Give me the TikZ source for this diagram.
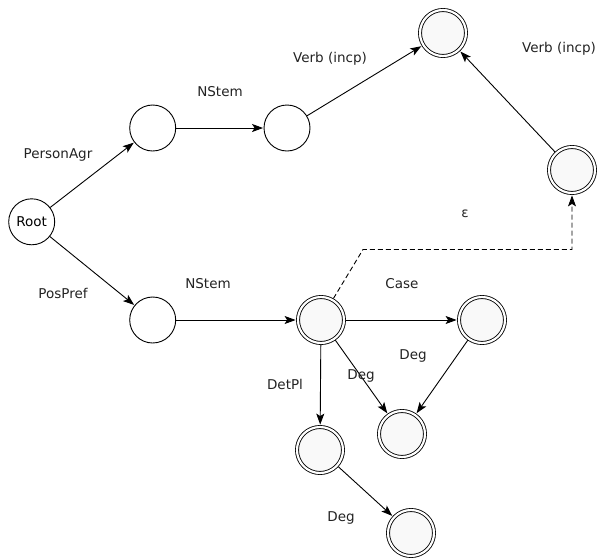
\documentclass[tikz,border=0pt]{standalone}
\usepackage{fontspec}
\setmainfont{DejaVu Sans}
\usetikzlibrary{arrows.meta,shadows}
\definecolor{accfill}{HTML}{F9F9F9}
\definecolor{txtcol}{HTML}{222222}
\tikzset{
  state/.style={circle, draw=black, line width=0.9pt, fill=white, minimum size=46pt, inner sep=0pt, font=\fontsize{13.5}{15}\selectfont},
  accstate/.style={circle, draw=black, line width=0.85pt, double=white, double distance=2.2pt, fill=accfill, minimum size=46pt, inner sep=0pt, outer sep=1.9pt,
    drop shadow={opacity=0.18, shadow xshift=1.2pt, shadow yshift=-1.2pt}},
  trans/.style={-{Stealth[length=11pt,width=8pt,inset=2.5pt]}, line width=0.9pt, shorten >=0.5pt},
  lbl/.style={font=\fontsize{13.5}{15}\selectfont, text=txtcol, inner sep=0pt}
}
\begin{document}
\begin{tikzpicture}[x=1pt,y=-1pt]
\useasboundingbox (0,0) rectangle (598,560);
% states
\node[state] (root) at (31.7,221.8) {Root};
\node[state] (a) at (152.7,128) {};
\node[state] (b) at (287,128) {};
\node[state] (c) at (152.7,320) {};
\node[accstate] (t) at (443,33) {};
\node[accstate] (r) at (572,170) {};
\node[accstate] (d) at (321,320) {};
\node[accstate] (e) at (482,320) {};
\node[accstate] (f) at (402,434) {};
\node[accstate] (g) at (320,450) {};
\node[accstate] (h) at (411,533) {};
% transitions
\draw[trans] (root) -- (a);
\draw[trans] (a) -- (b);
\draw[trans] (b) -- (t);
\draw[trans] (r) -- (t);
\draw[trans] (root) -- (c);
\draw[trans] (c) -- (d);
\draw[trans] (d) -- (e);
\draw[trans] (d) -- (f);
\draw[trans] (e) -- (f);
\draw[trans] (d) -- (g);
\draw[trans] (g) -- (h);
\coordinate (k1) at (363,249.5);
\coordinate (k2) at (r.south |- k1);
\draw[trans, dashed, dash pattern=on 5pt off 3pt] (d.60) -- (k1) -- (k2) -- (r.south);
% labels
\node[lbl] (lpa) at (58,155) {PersonAgr};
\node[lbl] (lns1) at (220,91.5) {NStem};
\node[lbl] (lv1) at (330,59) {Verb (incp)};
\node[lbl] (lv2) at (559,48.5) {Verb (incp)};
\node[lbl] (leps) at (465,214) {ε};
\node[lbl] (lpp) at (63,293) {PosPref};
\node[lbl] (lns2) at (208,283.6) {NStem};
\node[lbl] (lcase) at (402,283.6) {Case};
\node[lbl] (ldeg1) at (413,356.4) {Deg};
\node[lbl] (ldeg2) at (361,376) {Deg};
\node[lbl] (ldet) at (285,384) {DetPl};
\node[lbl] (ldeg3) at (341,518) {Deg};
\end{tikzpicture}
\end{document}
